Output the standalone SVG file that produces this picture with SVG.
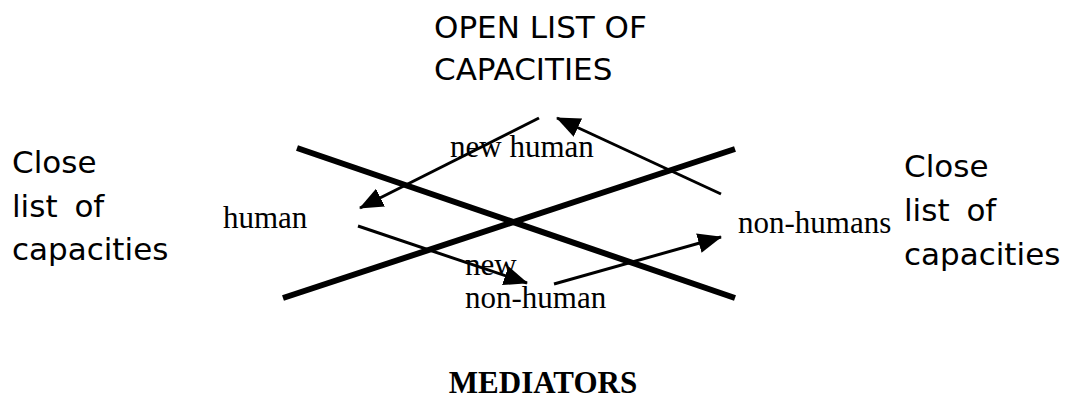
<svg xmlns="http://www.w3.org/2000/svg" width="1068" height="398" viewBox="0 0 1068 398">
<style>
.sans{font-family:"DejaVu Sans",Verdana,sans-serif;font-size:31px;fill:#000}
.serif{font-family:"Liberation Serif","Times New Roman",serif;font-size:31px;fill:#000}
.bold{font-weight:bold}
.thick{stroke:#000;stroke-width:6;fill:none}
.arrow{stroke:#000;stroke-width:3;fill:none;marker-end:url(#ah)}
</style>
<defs>
<marker id="ah" markerUnits="userSpaceOnUse" markerWidth="24" markerHeight="20" refX="23" refY="10" orient="auto" viewBox="0 0 24 20">
<path d="M0,0 L24,10 L0,20 z" fill="#000"/>
</marker>
</defs>
<rect width="1068" height="398" fill="#fff"/>
<g id="connectors">
<line class="thick" x1="297" y1="148" x2="735" y2="298"/>
<line class="thick" x1="283" y1="298" x2="735" y2="149"/>
<line class="arrow" x1="539" y1="118" x2="360" y2="208"/>
<line class="arrow" x1="721" y1="194" x2="557" y2="118"/>
<line class="arrow" x1="358" y1="226" x2="527" y2="283"/>
<line class="arrow" x1="554" y1="284" x2="721" y2="237"/>
</g>
<g id="open-list">
<text class="sans" x="434" y="38">OPEN LIST OF</text>
<text class="sans" x="434" y="80">CAPACITIES</text>
</g>
<g id="close-left">
<text class="sans" x="12" y="173">Close</text>
<text class="sans" x="12" y="216.5" word-spacing="7">list of</text>
<text class="sans" x="12" y="259.5">capacities</text>
</g>
<g id="close-right">
<text class="sans" x="904" y="177">Close</text>
<text class="sans" x="904" y="221" word-spacing="7">list of</text>
<text class="sans" x="904" y="265">capacities</text>
</g>
<g id="new-human"><text class="serif" x="450" y="157">new human</text></g>
<g id="human"><text class="serif" x="223" y="228">human</text></g>
<g id="non-humans"><text class="serif" x="738" y="233">non-humans</text></g>
<g id="new-non-human">
<text class="serif" x="465" y="275">new</text>
<text class="serif" x="465" y="308">non-human</text>
</g>
<g id="mediators"><text class="serif bold" x="543" y="393" text-anchor="middle">MEDIATORS</text></g>
</svg>
